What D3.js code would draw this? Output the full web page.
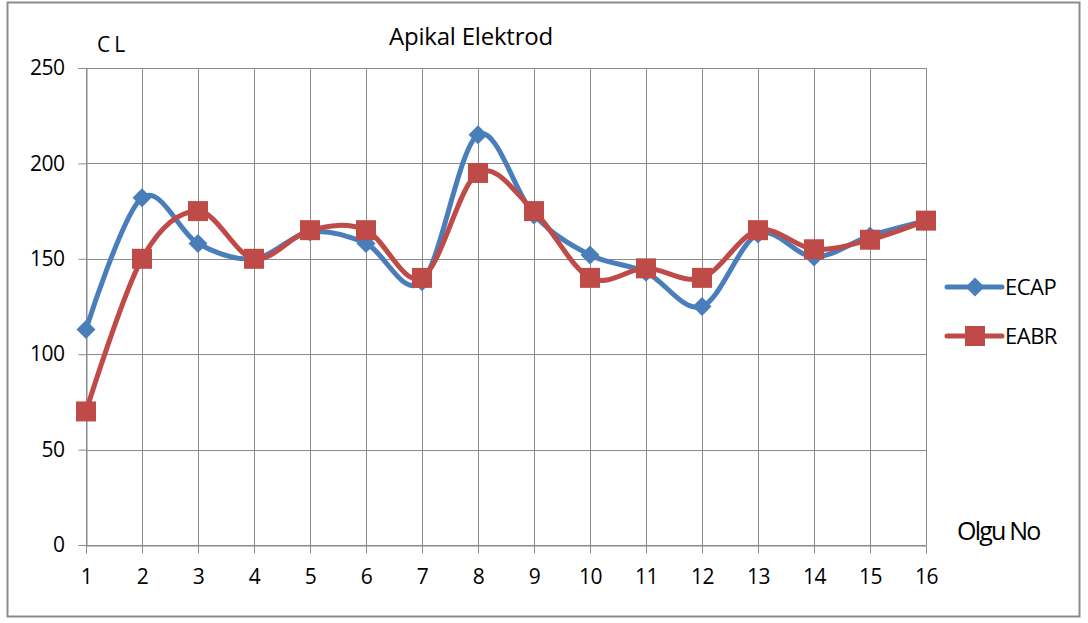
<!DOCTYPE html>
<html>
<head>
<meta charset="utf-8">
<script src="https://cdn.jsdelivr.net/npm/d3@7/dist/d3.min.js"></script>
<style>
  html, body { margin: 0; padding: 0; background: #fff; }
  svg text { font-family: "Open Sans", "Noto Sans", sans-serif; fill: #000; }
</style>
</head>
<body>
<svg id="chart" width="1088" height="623"></svg>
<script>
// Case numbers (Olgu No)
const cases = [1, 2, 3, 4, 5, 6, 7, 8, 9, 10, 11, 12, 13, 14, 15, 16];
// Threshold levels per case
const ecap = [113, 182, 158, 150, 164, 158, 138, 215, 173, 152, 143, 125, 163, 151, 162, 170];
const eabr = [70, 150, 175, 150, 165, 165, 140, 195, 175, 140, 145, 140, 165, 155, 160, 170];
const yTicks = [0, 50, 100, 150, 200, 250];
const seriesNames = ["ECAP", "EABR"];
const seriesColors = ["#4A7EBB", "#BE4B48"];

const svg = d3.select("#chart");

// outer frame
svg.append("rect")
  .attr("x", 7.5).attr("y", 2.5).attr("width", 1072).attr("height", 614)
  .attr("fill", "#fff").attr("stroke", "#8c8c8c").attr("stroke-width", 2);

const x = d3.scalePoint().domain(cases).range([86, 926]);
const y = d3.scaleLinear().domain([0, 250]).range([545, 68]);

// horizontal grid
svg.append("g").selectAll("line").data(yTicks).join("line")
  .attr("x1", 86).attr("x2", 926)
  .attr("y1", d => Math.round(y(d)) + 0.5).attr("y2", d => Math.round(y(d)) + 0.5)
  .attr("stroke", "#8a8a8a").attr("stroke-width", 1);

// vertical grid
svg.append("g").selectAll("line").data(cases).join("line")
  .attr("x1", d => Math.round(x(d)) + 0.5).attr("x2", d => Math.round(x(d)) + 0.5)
  .attr("y1", y(250)).attr("y2", y(0))
  .attr("stroke", "#8a8a8a").attr("stroke-width", 1);

// y axis
const yAxis = d3.axisLeft(y).tickValues(yTicks).tickSize(8).tickPadding(14);
const gy = svg.append("g").attr("transform", "translate(86.5,0)").call(yAxis);
gy.select(".domain").attr("stroke", "#8a8a8a");
gy.selectAll(".tick line").attr("stroke", "#8a8a8a");
gy.selectAll(".tick text").attr("font-size", 21).attr("font-family", "Open Sans")
  .attr("letter-spacing", -0.5);

// x axis
const xAxis = d3.axisBottom(x).tickSize(8).tickPadding(16);
const gx = svg.append("g").attr("transform", `translate(0,${Math.round(y(0)) + 0.5})`).call(xAxis);
gx.select(".domain").attr("stroke", "#8a8a8a");
gx.selectAll(".tick line").attr("stroke", "#8a8a8a");
gx.selectAll(".tick text").attr("font-size", 21).attr("font-family", "Open Sans")
  .attr("letter-spacing", -0.5);

// smoothed lines
const line = d3.line()
  .x((d, i) => x(cases[i]))
  .y(d => y(d))
  .curve(d3.curveCardinal.tension(0));

const allSeries = [ecap, eabr];
allSeries.forEach((vals, s) => {
  svg.append("path").datum(vals)
    .attr("d", line)
    .attr("fill", "none")
    .attr("stroke", seriesColors[s])
    .attr("stroke-width", 5)
    .attr("stroke-linejoin", "round");
});

const diamond = d3.symbol().type(d3.symbolDiamond2).size(230);
const square = d3.symbol().type(d3.symbolSquare).size(400);

// ECAP markers
svg.append("g").selectAll("path").data(ecap).join("path")
  .attr("transform", (d, i) => `translate(${x(cases[i])},${y(d)})`)
  .attr("d", diamond)
  .attr("fill", seriesColors[0]);

// EABR markers
svg.append("g").selectAll("path").data(eabr).join("path")
  .attr("transform", (d, i) => `translate(${x(cases[i])},${y(d)})`)
  .attr("d", square)
  .attr("fill", seriesColors[1]);

// titles
svg.append("text").attr("x", 471).attr("y", 45).attr("text-anchor", "middle")
  .attr("font-size", 24).attr("letter-spacing", -0.2).text("Apikal Elektrod");
svg.append("text").attr("x", 97).attr("y", 52)
  .attr("font-size", 21).attr("letter-spacing", 4).text("CL");
svg.append("text").attr("x", 957).attr("y", 540)
  .attr("font-size", 25).attr("letter-spacing", -1.8).text("Olgu No");

// legend
const legendY = [287, 336];
seriesNames.forEach((name, s) => {
  const g = svg.append("g");
  g.append("line").attr("x1", 947).attr("x2", 1002)
    .attr("y1", legendY[s]).attr("y2", legendY[s])
    .attr("stroke", seriesColors[s]).attr("stroke-width", 5).attr("stroke-linecap", "round");
  g.append("path").attr("transform", `translate(975,${legendY[s]})`)
    .attr("d", s === 0 ? diamond : square)
    .attr("fill", seriesColors[s]);
  g.append("text").attr("x", 1005).attr("y", legendY[s] + 8)
    .attr("font-size", 22).attr("letter-spacing", -0.5).text(name);
});
</script>
</body>
</html>
